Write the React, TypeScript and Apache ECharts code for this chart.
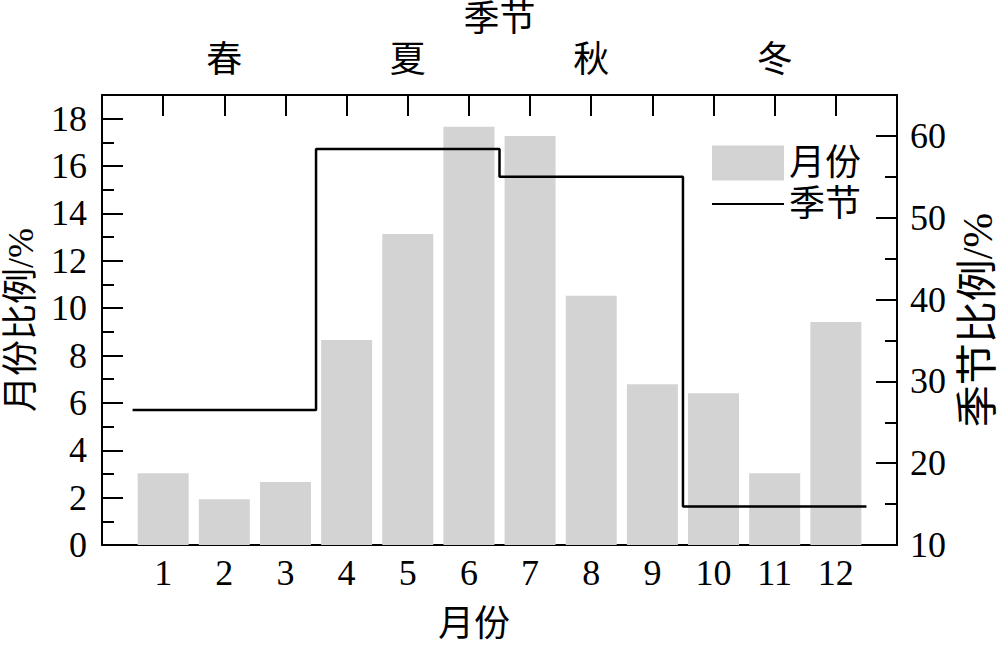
import React, { useEffect, useRef } from 'react';
import * as echarts from 'echarts';

const months = [1, 2, 3, 4, 5, 6, 7, 8, 9, 10, 11, 12];
const monthShare = [3.03, 1.93, 2.66, 8.66, 13.13, 17.66, 17.27, 10.52, 6.79, 6.41, 3.03, 9.42];
const seasonNames = ['春', '夏', '秋', '冬'];
const seasonFirstMonth = [1, 4, 7, 10];
const seasonLastMonth = [3, 6, 9, 12];
const seasonShare = [26.5, 58.4, 55.0, 14.7];

const FONT = "'Liberation Serif', 'Noto Sans CJK SC', serif";
const FS = 36;

export default function App() {
  const ref = useRef<HTMLDivElement>(null);
  useEffect(() => {
    if (!ref.current) return;
    const chart = echarts.init(ref.current, undefined, { renderer: 'svg' });

    const barData = months.map((m, i) => [m, monthShare[i]]);
    const lineData: number[][] = [];
    seasonShare.forEach((v, i) => {
      lineData.push([seasonFirstMonth[i] - 0.5, v]);
      lineData.push([seasonLastMonth[i] + 0.5, v]);
    });
    const seasonLabel: Record<number, string> = {};
    seasonNames.forEach((n, i) => {
      seasonLabel[(seasonFirstMonth[i] + seasonLastMonth[i]) / 2] = n;
    });

    const text = { fontFamily: FONT, fontSize: FS, color: '#000' };
    const axisLine = () => ({ show: true, onZero: false, lineStyle: { color: '#000', width: 2 } });
    const majorTick = () => ({ show: true, inside: true, length: 21, lineStyle: { color: '#000', width: 2 } });
    const minorTick = () => ({ show: true, inside: true, length: 12, lineStyle: { color: '#000', width: 2 } });

    chart.setOption({
      animation: false,
      grid: { left: 102, right: 103, top: 95, bottom: 100, containLabel: false, outerBoundsMode: 'none' },
      legend: {
        orient: 'vertical',
        left: 706,
        top: 140,
        itemWidth: 72,
        itemHeight: 35,
        itemGap: 5,
        textStyle: { ...text },
        data: [
          { name: '月份', icon: 'rect' },
          { name: '季节', itemStyle: { opacity: 0 } },
        ],
      },
      xAxis: [
        {
          type: 'value',
          position: 'bottom',
          min: 0,
          max: 13,
          interval: 1,
          name: '月份',
          nameLocation: 'middle',
          nameGap: 61,
          nameTextStyle: { ...text, lineHeight: 36, padding: [0, 51, 0, 0] },
          axisLine: axisLine(),
          axisTick: majorTick(),
          axisLabel: {
            ...text,
            margin: 10,
            formatter: (v: number) => (v >= 1 && v <= 12 ? String(v) : ''),
          },
          splitLine: { show: false },
        },
        {
          type: 'value',
          position: 'top',
          min: 0,
          max: 13,
          interval: 1,
          name: '季节',
          nameLocation: 'middle',
          nameGap: 56,
          nameTextStyle: text,
          axisLine: axisLine(),
          axisTick: majorTick(),
          axisLabel: {
            ...text,
            margin: 17,
            formatter: (v: number) => seasonLabel[v] || '',
          },
          splitLine: { show: false },
        },
      ],
      yAxis: [
        {
          type: 'value',
          position: 'left',
          min: 0,
          max: 19,
          interval: 2,
          name: '月份比例/%',
          nameLocation: 'middle',
          nameGap: 63,
          nameTextStyle: text,
          axisLine: axisLine(),
          axisTick: majorTick(),
          axisLabel: { ...text, margin: 15, formatter: (v: number) => (v % 2 === 0 ? String(v) : '') },
          splitLine: { show: false },
        },
        {
          type: 'value',
          position: 'right',
          min: 10,
          max: 65,
          interval: 10,
          name: '季节比例/%',
          nameLocation: 'middle',
          nameRotate: 90,
          nameGap: 60,
          nameTextStyle: { ...text, fontSize: 42 },
          axisLine: axisLine(),
          axisTick: majorTick(),
          axisLabel: { ...text, margin: 13, formatter: (v: number) => (v % 10 === 0 && v <= 60 ? String(v) : '') },
          splitLine: { show: false },
        },
        {
          type: 'value',
          position: 'left',
          min: 0,
          max: 19,
          interval: 1,
          axisLine: { show: false, onZero: false },
          axisTick: minorTick(),
          axisLabel: { show: false },
          splitLine: { show: false },
        },
        {
          type: 'value',
          position: 'right',
          min: 10,
          max: 65,
          interval: 5,
          axisLine: { show: false, onZero: false },
          axisTick: minorTick(),
          axisLabel: { show: false },
          splitLine: { show: false },
        },
      ],
      series: [
        {
          name: '月份',
          type: 'bar',
          xAxisIndex: 0,
          yAxisIndex: 0,
          barWidth: 51,
          itemStyle: { color: '#d3d3d3' },
          data: barData,
        },
        {
          name: '季节',
          type: 'line',
          xAxisIndex: 0,
          yAxisIndex: 1,
          symbol: 'none',
          showSymbol: false,
          lineStyle: { color: '#000', width: 2.5 },
          itemStyle: { color: '#000' },
          data: lineData,
        },
      ],
    });
    return () => chart.dispose();
  }, []);
  return (
    <div
      ref={ref}
      style={{ position: 'fixed', left: 0, top: 0, width: 1000, height: 645, background: '#fff' }}
    />
  );
}
